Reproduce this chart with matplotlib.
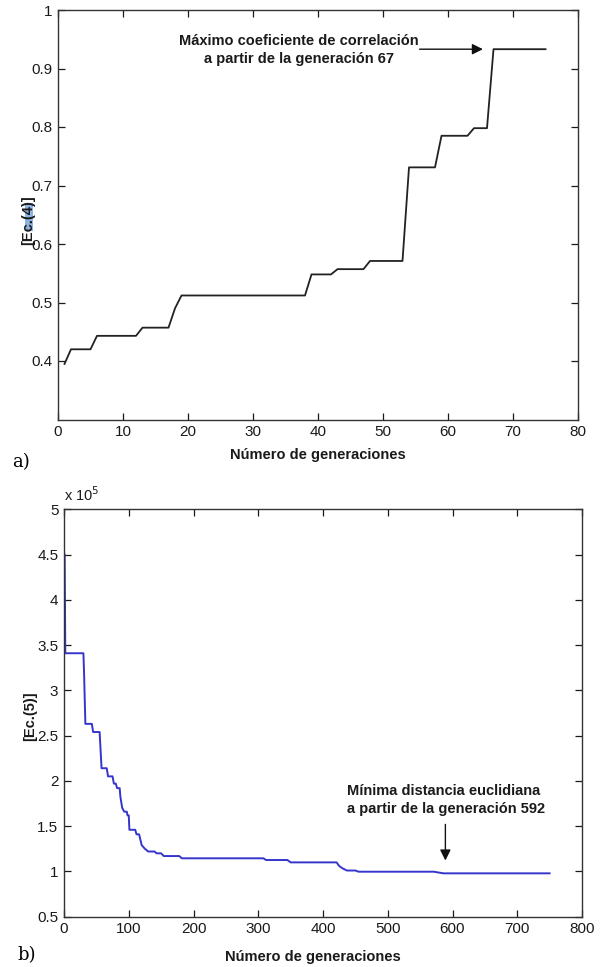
import matplotlib
matplotlib.use('Agg')
import matplotlib.pyplot as plt
from matplotlib.patches import Rectangle
from matplotlib.ticker import FuncFormatter

plt.rcParams['font.family'] = ['Liberation Sans', 'DejaVu Sans']

# a) Ec.(4) - maximo coeficiente de correlacion por generacion
gen_a = [1, 2, 5, 6, 12, 13, 17, 18, 19, 38, 39, 42, 43, 47, 48, 53, 54, 58, 59, 63, 64, 66, 67, 75]
ec4 = [0.395, 0.420, 0.420, 0.443, 0.443, 0.457, 0.457, 0.490, 0.512, 0.512, 0.548, 0.548, 0.557,
       0.557, 0.571, 0.571, 0.731, 0.731, 0.785, 0.785, 0.798, 0.798, 0.933, 0.933]

# b) Ec.(5) - minima distancia euclidiana por generacion
gen_b = [1, 2, 30, 31, 33, 43, 45, 55, 58, 66, 68, 75, 77, 80, 82, 86, 87, 89, 90, 93, 97, 98, 100,
         101, 110, 112, 116, 118, 120, 125, 130, 140, 143, 150, 154, 178, 182, 308, 312, 345, 350,
         421, 425, 430, 437, 450, 455, 571, 586, 750]
ec5 = [450000, 341000, 341000, 319000, 263000, 263000, 254000, 254000, 214000, 214000, 205000,
       205000, 197000, 197000, 192000, 192000, 183000, 174000, 170000, 166000, 166000, 162000,
       162000, 146000, 146000, 141000, 141000, 135000, 129000, 125000, 122000, 122000, 120000,
       120000, 117000, 117000, 114500, 114500, 112600, 112600, 110000, 110000, 106000, 103500,
       101000, 101000, 99700, 99700, 97900, 97900]

W, H = 601, 967
fig = plt.figure(figsize=(W / 100, H / 100), dpi=100)

def box(l, t, r, b):
    return [l / W, 1 - b / H, (r - l) / W, (b - t) / H]

def estilo(ax):
    ax.tick_params(direction='in', top=True, right=True, length=5, width=0.9,
                   labelsize=11, pad=4, colors='#1a1a1a')
    for s in ax.spines.values():
        s.set_linewidth(1.0)
        s.set_color('#333333')

lab = dict(fontsize=10.5, fontweight='bold', color='#1a1a1a')
ann = dict(fontsize=10.5, fontweight='bold', color='#1a1a1a')

# ---------- a) ----------
ax1 = fig.add_axes(box(58, 10, 578, 419.5))
ax1.plot(gen_a, ec4, color='#222222', lw=1.3)
ax1.set_xlim(0, 80)
ax1.set_ylim(0.3, 1)
ax1.set_xticks(range(0, 81, 10))
ax1.set_yticks([0.4, 0.5, 0.6, 0.7, 0.8, 0.9, 1.0])
ax1.yaxis.set_major_formatter(FuncFormatter(lambda v, p: f'{v:g}'))
estilo(ax1)
ax1.set_xlabel('Número de generaciones', **lab)
ax1.xaxis.set_label_coords(0.5, -0.07)
ax1.set_ylabel('[Ec.(4)]', **lab)
ax1.yaxis.set_label_coords(-0.044, 0.487)
ax1.text(37, 0.932, 'Máximo coeficiente de correlación\na partir de la generación 67',
         ha='center', va='center', linespacing=1.35, **ann)
ax1.annotate('', xy=(65.8, 0.933), xytext=(55.2, 0.933),
             arrowprops=dict(arrowstyle='-|>', color='#111111', lw=1.0, mutation_scale=16))

# highlight sobre "Ec." en la etiqueta
fig.patches.append(Rectangle((25 / W, 1 - 231 / H), 8 / W, 28 / H, transform=fig.transFigure,
                             facecolor='#8db4e2', edgecolor='none', zorder=-1))

# ---------- b) ----------
ax2 = fig.add_axes(box(64, 509.3, 582, 916.7))
ax2.plot(gen_b, ec5, color='#3535cc', lw=1.4)
ax2.set_xlim(0, 800)
ax2.set_ylim(50000, 500000)
ax2.set_xticks(range(0, 801, 100))
ax2.set_yticks([50000 * k for k in range(1, 11)])
ax2.yaxis.set_major_formatter(FuncFormatter(lambda v, p: f'{v / 1e5:g}'))
estilo(ax2)
ax2.set_xlabel('Número de generaciones', **lab)
ax2.xaxis.set_label_coords(0.481, -0.082)
ax2.set_ylabel('[Ec.(5)]', **lab)
ax2.yaxis.set_label_coords(-0.052, 0.491)
ax2.text(0.0, 1.035, 'x 10$^{5}$', transform=ax2.transAxes, fontsize=10.5, color='#1a1a1a',
         ha='left', va='center')
ax2.text(437, 178900, 'Mínima distancia euclidiana\na partir de la generación 592',
         ha='left', va='center', linespacing=1.35, **ann)
ax2.annotate('', xy=(589, 109000), xytext=(589, 155000),
             arrowprops=dict(arrowstyle='-|>', color='#111111', lw=1.0, mutation_scale=16))

fig.text(21 / W, 1 - 462 / H, 'a)', family='DejaVu Serif', fontsize=13, ha='center', va='center')
fig.text(27 / W, 1 - 955 / H, 'b)', family='DejaVu Serif', fontsize=13, ha='center', va='center')

fig.savefig('out.png', dpi=100, facecolor='white')
